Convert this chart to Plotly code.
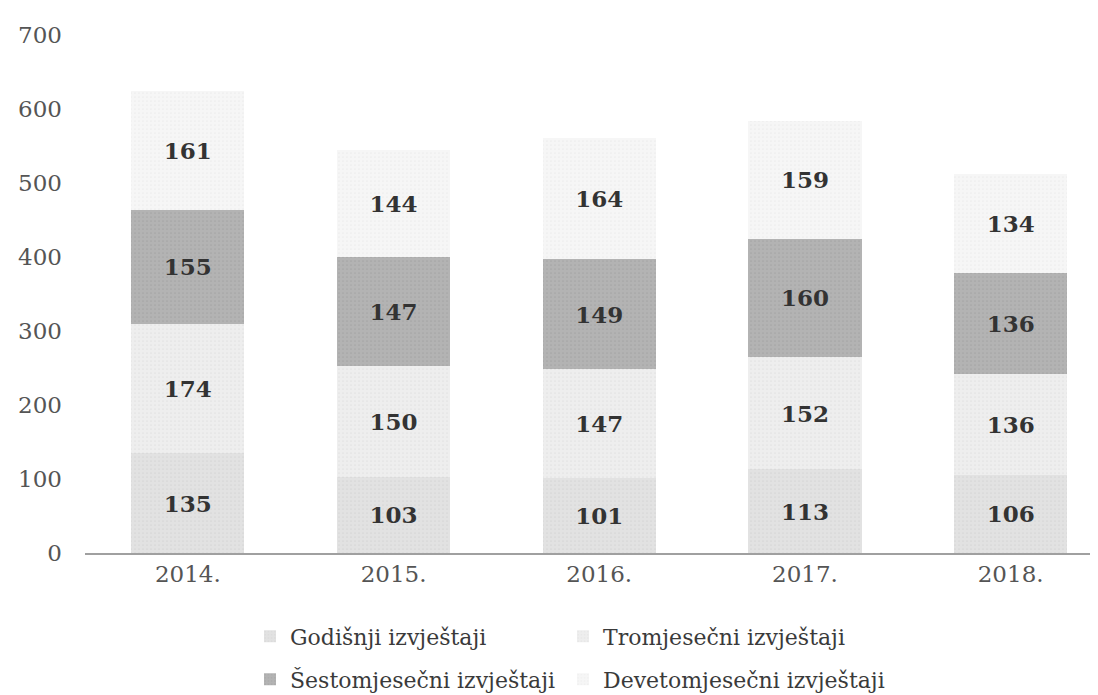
import plotly.graph_objects as go

years = ["2014.", "2015.", "2016.", "2017.", "2018."]
godisnji = [135, 103, 101, 113, 106]
tromjesecni = [174, 150, 147, 152, 136]
sestomjesecni = [155, 147, 149, 160, 136]
devetomjesecni = [161, 144, 164, 159, 134]

names = ["Godišnji izvještaji", "Tromjesečni izvještaji",
         "Šestomjesečni izvještaji", "Devetomjesečni izvještaji"]
series = [godisnji, tromjesecni, sestomjesecni, devetomjesecni]
colors = ["#e2e2e2", "#eeeeee", "#b3b3b3", "#f6f6f6"]
dots = ["#c9c9c9", "#d6d6d6", "#979797", "#e2e2e2"]
legends = ["legend", "legend2", "legend3", "legend4"]

L, T, B = 77, 27, 150
W, H = 1098, 695
PW = W - L
PH = H - T - B
px_per_cat = 205.7

fig = go.Figure()
for nm, vals, col, dc, lg in zip(names, series, colors, dots, legends):
    fig.add_trace(go.Bar(
        x=years, y=vals, name=nm, showlegend=True,
        marker=dict(color=col, line=dict(width=0),
                    pattern=dict(shape=".", size=4, solidity=0.15, fgcolor=dc)),
        text=[str(v) for v in vals], textposition="inside",
        insidetextanchor="middle", textangle=0,
        textfont=dict(family="DejaVu Serif", size=23, color="#333333", weight="bold"),
        width=0.55, legend=lg,
    ))

leg_font = dict(family="DejaVu Serif", size=22, color="#3a3a3a")


def leg(xpx, ypx):
    return dict(orientation="h", x=(xpx - L) / PW, xanchor="left",
                y=-(ypx - (H - B)) / PH, yanchor="middle", visible=True,
                font=leg_font, itemwidth=30, bgcolor="rgba(0,0,0,0)")


fig.update_layout(
    barmode="stack",
    showlegend=True,
    width=W, height=H,
    margin=dict(l=L, r=0, t=T, b=B),
    paper_bgcolor="white", plot_bgcolor="white",
    font=dict(family="DejaVu Serif", color="#555555"),
    uniformtext=dict(minsize=23, mode="show"),
    xaxis=dict(range=[-0.5, -0.5 + PW / px_per_cat], showgrid=False, showline=True,
               linecolor="#a0a0a0", linewidth=1.5,
               tickfont=dict(family="DejaVu Serif", size=23, color="#555555"), ticks=""),
    yaxis=dict(range=[0, 700], dtick=100, showgrid=False, zeroline=False,
               showline=False,
               tickfont=dict(family="DejaVu Serif", size=23, color="#555555"),
               ticklabelstandoff=22),
    legend=leg(242, 628.5),
    legend2=leg(555, 628.5),
    legend3=leg(242, 671.5),
    legend4=leg(555, 671.5),
)

fig.write_html("out.html")
